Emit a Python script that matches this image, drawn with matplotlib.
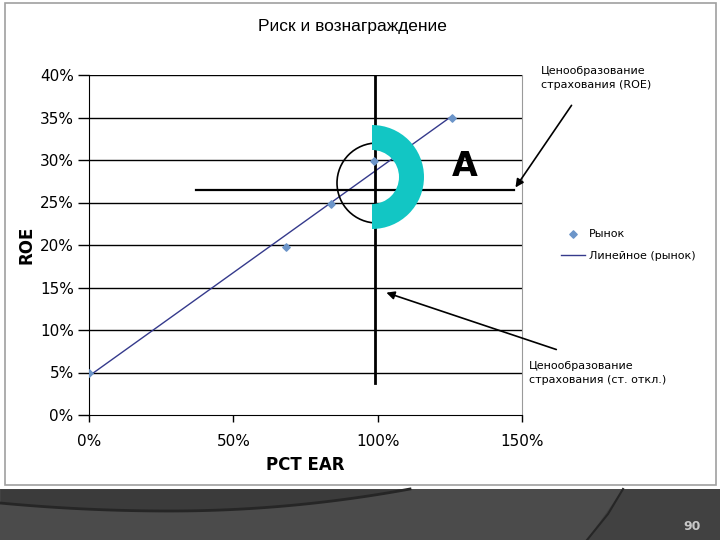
import numpy as np
import matplotlib
matplotlib.use('Agg')
import matplotlib.pyplot as plt
import matplotlib.patches as mpatches
from matplotlib.ticker import FuncFormatter

# data
pct_ear = [0.0, 0.684, 0.837, 0.986, 1.257]
roe = [0.05, 0.198, 0.248, 0.299, 0.350]
x_ticks = [0.0, 0.5, 1.0, 1.5]
y_ticks = [0.0, 0.05, 0.10, 0.15, 0.20, 0.25, 0.30, 0.35, 0.40]

W, H = 720, 540
fig = plt.figure(figsize=(7.2, 5.4), dpi=100)

def box(l, t, r, b):
    # pixel box -> figure fraction rect
    return [l / W, 1 - b / H, (r - l) / W, (b - t) / H]

# background: page frame and dark footer band
bg = fig.add_axes([0, 0, 1, 1], zorder=0)
bg.set_xlim(0, W)
bg.set_ylim(H, 0)
bg.axis('off')
bg.add_patch(mpatches.Rectangle((5, 3), 711, 482, fc='white', ec='#a0a0a0', lw=1.2))
bg.add_patch(mpatches.Rectangle((0, 489), W, 51, fc='#4b4b4b', ec='none'))
cx = np.linspace(0, 410, 80)
cy = np.where(cx < 170, 511 - 8 * ((170 - cx) / 170) ** 2, 511 - 22 * ((cx - 170) / 240) ** 2)
cy = np.clip(cy, 489, 540)
bg.fill_between(cx, 489, cy, color='#3b3b3b', lw=0)
bg.plot(cx, cy, color='#262626', lw=2)
bg.add_patch(mpatches.Polygon([(623, 489), (720, 489), (720, 540), (587, 540)],
                              closed=True, fc='#414141', ec='none'))
bg.plot([623, 608, 587], [489, 514, 540], color='#262626', lw=1.5)
bg.text(692, 526, '90', color='#c8c8c8', fontsize=9, ha='center', va='center',
        fontweight='bold')

# main chart
ax = fig.add_axes(box(89, 75, 522, 415), zorder=2)
ax.patch.set_alpha(0)
ax.set_xlim(0, 1.5)
ax.set_ylim(0, 0.40)
ax.set_xticks(x_ticks)
ax.set_yticks(y_ticks)
fmt = FuncFormatter(lambda v, p: '{:.0f}%'.format(v * 100))
ax.xaxis.set_major_formatter(fmt)
ax.yaxis.set_major_formatter(fmt)
ax.tick_params(axis='y', length=8, width=1, pad=3, labelsize=11, colors='black')
ax.tick_params(axis='x', length=5, width=1, pad=9, labelsize=11)
for yv in y_ticks[1:]:
    ax.axhline(yv, color='black', lw=1, zorder=1)
ax.spines['top'].set_visible(False)
ax.spines['right'].set_color('#9a9a9a')
ax.spines['left'].set_color('black')
ax.spines['bottom'].set_color('black')

ax.set_xlabel('PCT EAR', fontsize=12, fontweight='bold', family=['Liberation Sans Narrow', 'DejaVu Sans'],
              labelpad=5)
ax.set_ylabel('ROE', fontsize=12, fontweight='bold', labelpad=3)

k, b = np.polyfit(pct_ear, roe, 1)
xs = np.array([0.0, max(pct_ear)])
ax.plot(xs, k * xs + b, color='#353a8c', lw=1, zorder=3, label='Линейное (рынок)')
ax.scatter(pct_ear, roe, marker='D', s=14, color='#6c95c9', zorder=4, label='Рынок')

# pricing lines
ax.plot([0.99, 0.99], [0.038, 0.40], color='black', lw=2, zorder=3)
ax.plot([0.372, 1.472], [0.265, 0.265], color='black', lw=1.6, zorder=3, clip_on=False)

ax.annotate('', xy=(1.472, 0.265), xytext=(1.677, 0.367), annotation_clip=False,
            arrowprops=dict(arrowstyle='-|>', color='black', lw=1.2, mutation_scale=12))
ax.annotate('', xy=(1.021, 0.145), xytext=(1.628, 0.076), annotation_clip=False,
            arrowprops=dict(arrowstyle='-|>', color='black', lw=1.2, mutation_scale=12))

fig.text(541 / W, 1 - 78 / H, 'Ценообразование\nстрахования (ROE)', fontsize=8,
         ha='left', va='center', linespacing=1.5)
fig.text(529 / W, 1 - 373 / H, 'Ценообразование\nстрахования (ст. откл.)', fontsize=8,
         ha='left', va='center', linespacing=1.5)

h, l = ax.get_legend_handles_labels()
fig.legend(h[::-1], l[::-1], loc='upper left', bbox_to_anchor=(551 / W, 1 - 219 / H),
           frameon=False, fontsize=8, handlelength=2.2, labelspacing=1.1,
           handletextpad=0.3, scatterpoints=1)

fig.text(352 / W, 1 - 27 / H, 'Риск и вознаграждение', fontsize=12.5,
         family='Liberation Sans', ha='center', va='center')

# overlay: circle and the cyan "D"
ov = fig.add_axes([0, 0, 1, 1], zorder=5)
ov.set_xlim(0, W)
ov.set_ylim(H, 0)
ov.axis('off')
ov.add_patch(mpatches.Circle((377, 183), 40, fill=False, ec='black', lw=1.2))
ov.add_patch(mpatches.Wedge((372, 177), 52, -90, 90, width=25, fc='#12c6c4', ec='none'))
ov.text(465, 166, 'A', fontsize=24, fontweight='bold', ha='center', va='center')

fig.savefig('out.png', dpi=100)
